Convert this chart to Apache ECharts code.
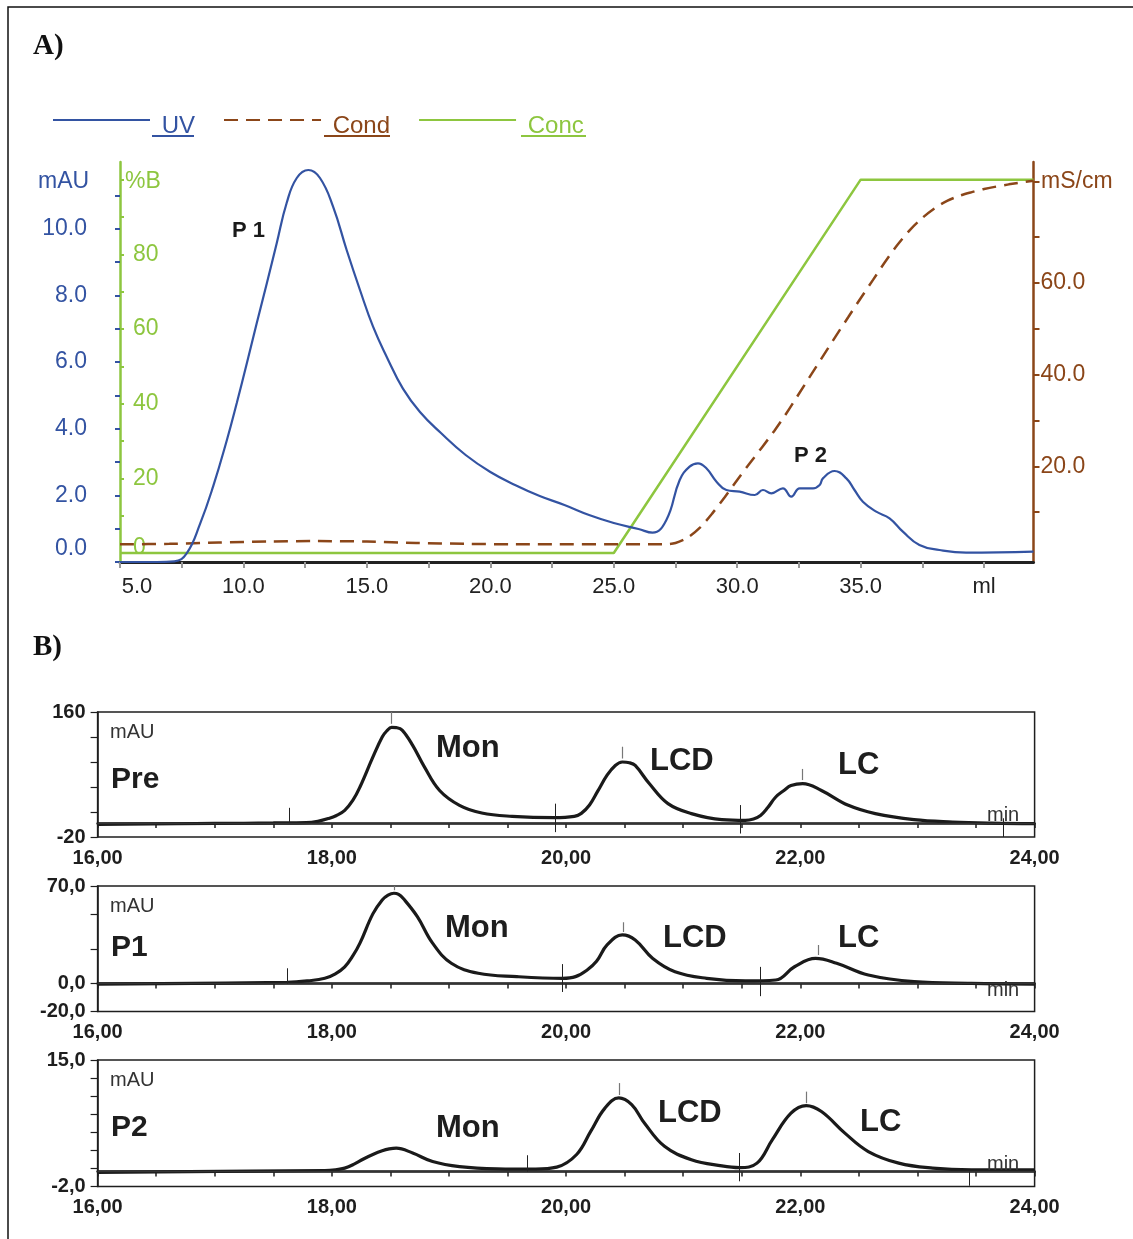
<!DOCTYPE html>
<html>
<head>
<meta charset="utf-8">
<script src="https://cdn.jsdelivr.net/npm/echarts@6/dist/echarts.min.js"></script>
<style>
html, body { margin: 0; padding: 0; background: #fff; }
#main { width: 1133px; height: 1239px; }
</style>
</head>
<body>
<div id="main"></div>
<script>
// ---- panel A: elution profile, x in ml ----
var uvMl = [5.0, 6.5, 7.2, 7.7, 8.25, 8.77, 9.33, 9.73, 10.14, 10.54, 10.95, 11.35, 11.75, 12.16, 12.63, 13.1, 13.63, 14.18, 14.72, 15.25, 15.8, 16.46, 17.15, 18.0, 19.0, 20.0, 21.0, 22.0, 23.0, 24.0, 25.0, 26.0, 26.57, 27.13, 27.67, 28.07, 28.41, 28.75, 29.16, 29.56, 30.1, 30.71, 31.04, 31.38, 31.85, 32.19, 32.53, 33.07, 33.34, 33.47, 33.94, 34.42, 34.75, 35.09, 35.63, 36.17, 36.71, 37.38, 38.19, 39.27, 42.0];
var uvMau = [0, 0, 0.02, 0.26, 1.16, 2.26, 3.66, 4.77, 5.97, 7.17, 8.37, 9.57, 10.77, 11.52, 11.76, 11.52, 10.66, 9.36, 8.16, 7.06, 6.16, 5.2, 4.5, 3.87, 3.21, 2.7, 2.31, 1.98, 1.71, 1.41, 1.17, 0.99, 0.88, 1.26, 2.46, 2.86, 2.96, 2.81, 2.41, 2.16, 2.11, 2.01, 2.16, 2.06, 2.21, 1.96, 2.21, 2.21, 2.31, 2.51, 2.73, 2.51, 2.16, 1.81, 1.51, 1.31, 0.91, 0.51, 0.36, 0.28, 0.31];

var condMl = [5, 7, 9, 11, 13, 15, 17, 19, 21, 27.0, 27.5, 28.0, 28.5, 29.0, 29.5, 30.0, 30.5, 31.0, 31.5, 32.0, 32.5, 33.0, 33.5, 34.0, 34.5, 35.0, 35.5, 36.0, 36.5, 37.0, 37.5, 38.0, 38.5, 39.0, 39.5, 40.0, 41.0, 42.0];
var condMs = [3.0, 3.1, 3.4, 3.6, 3.7, 3.6, 3.3, 3.1, 3.0, 3.0, 3.3, 4.5, 6.7, 9.8, 13.3, 17.0, 20.6, 24.1, 27.7, 31.6, 35.8, 40.0, 44.2, 48.4, 52.5, 56.6, 60.6, 64.6, 68.3, 71.5, 74.1, 76.2, 77.8, 78.9, 79.7, 80.4, 81.4, 82.2];

var concMl = [5, 25, 35, 42];
var concPct = [0, 0, 100, 100];

var mlTicks = [5, 7.5, 10, 12.5, 15, 17.5, 20, 22.5, 25, 27.5, 30, 32.5, 35, 37.5, 40];
var mlLabels = [5, 10, 15, 20, 25, 30, 35, 40];   // 40 is printed as "ml"
var mauTicks = [0, 1, 2, 3, 4, 5, 6, 7, 8, 9, 10, 11];
var mauLabels = [0, 2, 4, 6, 8, 10];
var pctTicks = [0, 10, 20, 30, 40, 50, 60, 70, 80, 90, 100];
var pctLabels = [0, 20, 40, 60, 80];
var msTicks = [10, 20, 30, 40, 50, 60, 70, 82];
var msLabels = [20, 40, 60];

// ---- panel B: analytical runs, x in min ----
var preMin = [16.0, 17.0, 17.5, 17.78, 17.88, 17.97, 18.04, 18.11, 18.18, 18.24, 18.35, 18.43, 18.47, 18.51, 18.55, 18.6, 18.69, 18.79, 18.92, 19.09, 19.28, 19.54, 19.9, 20.07, 20.13, 20.2, 20.27, 20.35, 20.42, 20.48, 20.54, 20.59, 20.71, 20.87, 21.07, 21.33, 21.53, 21.6, 21.66, 21.72, 21.79, 21.86, 21.92, 22.02, 22.18, 22.41, 22.64, 22.97, 23.3, 23.63, 24.0];
var preMau = [-1.7, -0.5, 0.2, 0.7, 2.6, 6.5, 11, 18.4, 33, 52, 95, 124, 133, 138, 137.5, 134, 112, 81, 47, 25.6, 14.5, 9.8, 7.9, 9.8, 14, 26, 46, 69, 83, 88, 87, 83, 57, 28, 13.7, 5, 4, 6, 11, 22, 37.6, 47, 54, 57, 47, 25.6, 13.7, 5, 1.6, 0, -0.7];

var p1Min = [16.0, 17.62, 17.8, 17.94, 18.03, 18.11, 18.18, 18.24, 18.35, 18.43, 18.48, 18.53, 18.57, 18.61, 18.73, 18.86, 19.02, 19.25, 19.58, 19.97, 20.08, 20.18, 20.26, 20.35, 20.48, 20.59, 20.74, 20.93, 21.2, 21.53, 21.79, 21.95, 22.13, 22.31, 22.58, 22.97, 23.46, 24.0];
var p1Mau = [-0.3, 0.9, 2, 3.8, 7, 12, 20, 29, 50, 60, 63.5, 64.8, 64, 61, 48, 29, 14.6, 7.4, 5, 3.8, 5, 9.8, 16, 27.7, 34.9, 31.3, 18, 8.5, 3.8, 1.9, 2.6, 12.1, 18.1, 14.6, 6.2, 1.4, 0.2, -0.3];

var p2Min = [16.0, 17.94, 18.03, 18.11, 18.19, 18.27, 18.35, 18.43, 18.49, 18.55, 18.69, 18.86, 19.09, 19.41, 19.74, 19.92, 20.09, 20.21, 20.33, 20.45, 20.56, 20.67, 20.84, 21.07, 21.33, 21.48, 21.63, 21.76, 21.92, 22.05, 22.18, 22.38, 22.58, 22.84, 23.13, 23.46, 24.0];
var p2Mau = [-0.1, 0.15, 0.25, 0.47, 1.0, 1.7, 2.3, 2.8, 3.05, 3.15, 2.5, 1.36, 0.68, 0.38, 0.34, 0.6, 2.3, 5.4, 8.5, 9.9, 9.0, 6.5, 3.4, 1.6, 0.78, 0.55, 1.14, 4.27, 7.85, 8.87, 8.07, 5.17, 2.7, 1.14, 0.47, 0.24, 0.24];

// integration cuts (time, low, high) and apex marks
var preCutT = [17.64, 19.91, 21.49, 23.73], preCutLo = [0, -13, -15, -20], preCutHi = [22, 28, 26, 7];
var prePeakT = [18.51, 20.48, 22.02], prePeakLo = [143, 93, 62], prePeakHi = [160, 110, 78];
var p1CutT = [17.62, 19.97, 21.66], p1CutLo = [0, -6, -9], p1CutHi = [11, 14, 12];
var p1PeakT = [18.53, 20.49, 22.15], p1PeakLo = [67, 37, 20.5], p1PeakHi = [70, 44, 27.7];
var p2CutT = [19.67, 21.48, 23.44], p2CutLo = [0, -1.3, -1.9], p2CutHi = [2.2, 2.5, 0];
var p2PeakT = [20.45, 22.05], p2PeakLo = [10.3, 9.2], p2PeakHi = [11.9, 10.75];

var minTicks = [16, 16.5, 17, 17.5, 18, 18.5, 19, 19.5, 20, 20.5, 21, 21.5, 22, 22.5, 23, 23.5, 24];
var minLabels = [16, 18, 20, 22, 24];
var preTicks = [-20, 16, 52, 88, 124, 160], preLabels = [-20, 160];
var p1Ticks = [-20, 0, 25, 50, 70], p1Labels = [-20, 0, 70];
var p2Ticks = [-2, 0.43, 2.86, 5.29, 7.71, 10.14, 12.57, 15], p2Labels = [-2, 15];

var BLUE = '#3353a2', GREEN = '#8dc63f', BROWN = '#8b4619', INK = '#1e1e1e';
var SANS = '"Liberation Sans", Arial, sans-serif';

function zip(xs, ys) {
    var out = [];
    for (var i = 0; i < xs.length; i++) out.push([xs[i], ys[i]]);
    return out;
}
function comma(v, d) { return v.toFixed(d).replace('.', ','); }

function marks(cutT, cutLo, cutHi, pkT, pkLo, pkHi) {
    var data = [{ yAxis: 0, lineStyle: { color: '#333', width: 1.3, type: 'solid' } }];
    cutT.forEach(function (t, i) {
        data.push([{ coord: [t, cutLo[i]], lineStyle: { color: '#222', width: 1, type: 'solid' } }, { coord: [t, cutHi[i]] }]);
    });
    pkT.forEach(function (t, i) {
        data.push([{ coord: [t, pkLo[i]], lineStyle: { color: '#777', width: 1.2, type: 'solid' } }, { coord: [t, pkHi[i]] }]);
    });
    return { symbol: ['none', 'none'], silent: true, label: { show: false }, animation: false, data: data };
}

var bLabel = { fontFamily: SANS, fontWeight: 'bold', fontSize: 20, color: INK };

function bXAxis(gi) {
    return {
        type: 'value', gridIndex: gi, min: 16, max: 24,
        axisLine: { lineStyle: { color: INK, width: 2.5 } },
        axisTick: { customValues: minTicks, length: 5, lineStyle: { color: INK, width: 1.5 } },
        axisLabel: Object.assign({ customValues: minLabels, margin: 11, formatter: function (v) { return comma(v, 2); } }, bLabel),
        splitLine: { show: false }
    };
}
function bYAxis(gi, min, max, ticks, labels, dec) {
    return {
        type: 'value', gridIndex: gi, min: min, max: max,
        axisLine: { show: true, lineStyle: { color: INK, width: 1.5 } },
        axisTick: { customValues: ticks, length: 7, lineStyle: { color: INK, width: 1.2 } },
        axisLabel: Object.assign({ customValues: labels, margin: 12, formatter: function (v) { return comma(v, dec); } }, bLabel),
        splitLine: { show: false }
    };
}
function bSeries(idx, xs, ys, mk) {
    return {
        type: 'line', xAxisIndex: idx, yAxisIndex: idx + 2, data: zip(xs, ys),
        symbol: 'none', smooth: 0.4, z: 3,
        lineStyle: { color: '#1a1a1a', width: 3.2 },
        markLine: mk
    };
}

function txt(x, y, s, font, color) {
    return { type: 'text', x: x, y: y, z: 10, style: { text: s, font: font, fill: color, verticalAlign: 'middle' } };
}
function hline(x1, x2, y, color) {
    return { type: 'line', z: 10, shape: { x1: x1, y1: y, x2: x2, y2: y }, style: { stroke: color, lineWidth: 2 } };
}
function legendItem(name, color) {
    return {
        name: name,
        textStyle: { color: color, rich: { t: { color: color, fontFamily: SANS, fontSize: 24, padding: [12, 0, 0, 0] } } }
    };
}

var chart = echarts.init(document.getElementById('main'));

var option = {
    animation: false,
    backgroundColor: '#fff',
    grid: [
        { left: 120, top: 162, width: 913.5, height: 400 },
        { left: 97.6, top: 712, width: 937, height: 125, show: true, borderColor: INK, borderWidth: 1.5 },
        { left: 97.6, top: 886, width: 937, height: 125.5, show: true, borderColor: INK, borderWidth: 1.5 },
        { left: 97.6, top: 1060, width: 937, height: 126.5, show: true, borderColor: INK, borderWidth: 1.5 }
    ],
    legend: {
        left: 52, top: 114, padding: 0, itemWidth: 97, itemHeight: 14, itemGap: 28,
        selectedMode: false,
        itemStyle: { color: 'rgba(0,0,0,0)', borderWidth: 0, opacity: 0 },
        formatter: function (n) { return '{t| ' + n + '}'; },
        textStyle: { fontFamily: SANS, fontSize: 24 },
        data: [legendItem('UV', BLUE), legendItem('Cond', BROWN), legendItem('Conc', GREEN)]
    },
    xAxis: [
        {
            type: 'value', gridIndex: 0, min: 5, max: 42,
            axisLine: { lineStyle: { color: '#222', width: 3 } },
            axisTick: { customValues: mlTicks, length: 6, lineStyle: { color: '#999', width: 2 } },
            axisLabel: {
                customValues: mlLabels, margin: 14, fontFamily: SANS, fontSize: 22, color: '#222',
                formatter: function (v) {
                    if (v === 40) return 'ml';
                    if (v === 5) return '{s|5.0}';
                    return v.toFixed(1);
                },
                rich: { s: { fontFamily: SANS, fontSize: 22, color: '#222', padding: [0, 0, 0, 34] } }
            },
            splitLine: { show: false }
        },
        bXAxis(1), bXAxis(2), bXAxis(3)
    ],
    yAxis: [
        {
            type: 'value', gridIndex: 0, min: 0, max: 12, position: 'left',
            axisLine: { show: false },
            axisTick: { show: true, customValues: mauTicks, length: 5, lineStyle: { color: BLUE, width: 2 } },
            axisLabel: {
                customValues: mauLabels, margin: 33, fontFamily: SANS, fontSize: 23, color: BLUE,
                formatter: function (v) { return v === 0 ? '{z|0.0}' : v.toFixed(1); },
                rich: { z: { fontFamily: SANS, fontSize: 23, color: BLUE, padding: [0, 0, 26, 0] } }
            },
            splitLine: { show: false }
        },
        {
            type: 'value', gridIndex: 0, min: -2.41, max: 104.73, position: 'left',
            axisLine: { show: true, onZero: false, lineStyle: { color: GREEN, width: 2.5 } },
            axisTick: { show: true, inside: true, customValues: pctTicks, length: 4, lineStyle: { color: GREEN, width: 2 } },
            axisLabel: {
                inside: true, customValues: pctLabels, margin: 13, fontFamily: SANS, fontSize: 23, color: GREEN,
                formatter: function (v) { return v === 0 ? '{z|0}' : String(v); },
                rich: { z: { fontFamily: SANS, fontSize: 23, color: GREEN, padding: [0, 0, 10, 0] } }
            },
            splitLine: { show: false }
        },
        {
            type: 'value', gridIndex: 0, min: -0.854, max: 86.27, position: 'right',
            axisLine: { show: true, onZero: false, lineStyle: { color: BROWN, width: 2.5 } },
            axisTick: { show: true, customValues: msTicks, length: 6, lineStyle: { color: BROWN, width: 2 } },
            axisLabel: {
                customValues: msLabels, margin: 7, fontFamily: SANS, fontSize: 23, color: BROWN,
                formatter: function (v) { return v.toFixed(1); }
            },
            splitLine: { show: false }
        },
        bYAxis(1, -20, 160, preTicks, preLabels, 0),
        bYAxis(2, -20, 70, p1Ticks, p1Labels, 1),
        bYAxis(3, -2, 15, p2Ticks, p2Labels, 1)
    ],
    series: [
        {
            name: 'Conc', type: 'line', xAxisIndex: 0, yAxisIndex: 1, data: zip(concMl, concPct),
            symbol: 'none', z: 2, lineStyle: { color: GREEN, width: 2.5 }, itemStyle: { color: GREEN }
        },
        {
            name: 'Cond', type: 'line', xAxisIndex: 0, yAxisIndex: 2, data: zip(condMl, condMs),
            symbol: 'none', smooth: 0.3, z: 3, lineStyle: { color: BROWN, width: 2.5, type: [14, 8] }, itemStyle: { color: BROWN }
        },
        {
            name: 'UV', type: 'line', xAxisIndex: 0, yAxisIndex: 0, data: zip(uvMl, uvMau),
            symbol: 'none', smooth: 0.45, z: 4, lineStyle: { color: BLUE, width: 2.2 }, itemStyle: { color: BLUE }
        },
        bSeries(1, preMin, preMau, marks(preCutT, preCutLo, preCutHi, prePeakT, prePeakLo, prePeakHi)),
        bSeries(2, p1Min, p1Mau, marks(p1CutT, p1CutLo, p1CutHi, p1PeakT, p1PeakLo, p1PeakHi)),
        bSeries(3, p2Min, p2Mau, marks(p2CutT, p2CutLo, p2CutHi, p2PeakT, p2PeakLo, p2PeakHi))
    ],
    graphic: [
        { type: 'rect', z: 0, shape: { x: 8, y: 7, width: 1150, height: 1260 }, style: { fill: 'none', stroke: '#111', lineWidth: 1.5 } },
        txt(33, 47, 'A)', 'bold 29px "Liberation Serif", serif', '#111'),
        txt(33, 648, 'B)', 'bold 29px "Liberation Serif", serif', '#111'),
        hline(152, 194, 136, BLUE),
        hline(324, 390, 136, BROWN),
        hline(521, 586, 136, GREEN),
        txt(38, 182, 'mAU', '23px ' + SANS, BLUE),
        txt(125, 182, '%B', '23px ' + SANS, GREEN),
        txt(1041, 182, 'mS/cm', '23px ' + SANS, BROWN),
        txt(232, 231, 'P 1', 'bold 22px ' + SANS, '#1a1a1a'),
        txt(794, 456, 'P 2', 'bold 22px ' + SANS, '#1a1a1a'),

        txt(110, 732, 'mAU', '20px ' + SANS, '#333'),
        txt(111, 780, 'Pre', 'bold 30px ' + SANS, INK),
        txt(436, 748, 'Mon', 'bold 31px ' + SANS, INK),
        txt(650, 761, 'LCD', 'bold 31px ' + SANS, INK),
        txt(838, 765, 'LC', 'bold 31px ' + SANS, INK),
        txt(987, 815, 'min', '20px ' + SANS, '#333'),

        txt(110, 906, 'mAU', '20px ' + SANS, '#333'),
        txt(111, 948, 'P1', 'bold 30px ' + SANS, INK),
        txt(445, 928, 'Mon', 'bold 31px ' + SANS, INK),
        txt(663, 938, 'LCD', 'bold 31px ' + SANS, INK),
        txt(838, 938, 'LC', 'bold 31px ' + SANS, INK),
        txt(987, 990, 'min', '20px ' + SANS, '#333'),

        txt(110, 1080, 'mAU', '20px ' + SANS, '#333'),
        txt(111, 1128, 'P2', 'bold 30px ' + SANS, INK),
        txt(436, 1128, 'Mon', 'bold 31px ' + SANS, INK),
        txt(658, 1113, 'LCD', 'bold 31px ' + SANS, INK),
        txt(860, 1122, 'LC', 'bold 31px ' + SANS, INK),
        txt(987, 1164, 'min', '20px ' + SANS, '#333')
    ]
};

chart.setOption(option);
</script>
</body>
</html>
